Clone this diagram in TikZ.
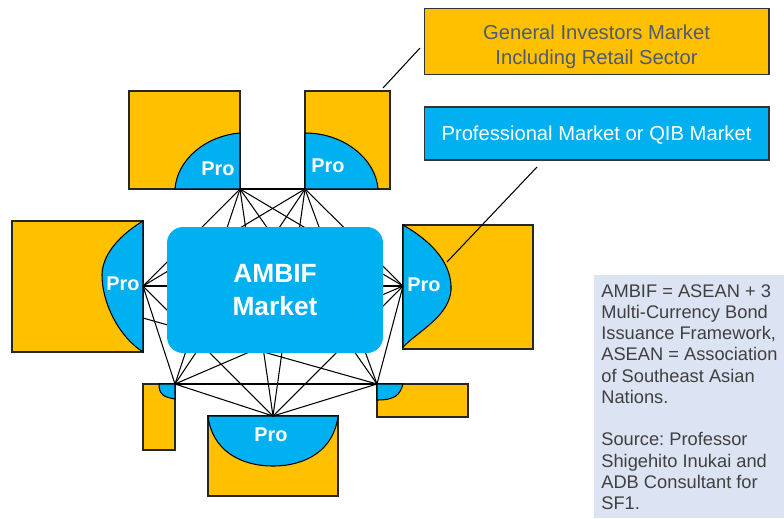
\documentclass[tikz,border=0pt]{standalone}
\usepackage{fontspec}
\setmainfont{Liberation Sans}

\definecolor{mktorange}{HTML}{FFC000}
\definecolor{mktblue}{HTML}{00B0F0}
\definecolor{notebg}{HTML}{DCE3F2}
\definecolor{slatetext}{HTML}{4F5A70}
\definecolor{notetext}{HTML}{404040}

\begin{document}
\frenchspacing
\begin{tikzpicture}[x=0.02cm, y=-0.02cm,
  genbox/.style={rectangle, draw=black!80, fill=mktorange, line width=0.6pt, minimum width=6.9cm, minimum height=1.14cm, align=center, font=\fontsize{11.5}{14.2}\selectfont, text=slatetext},
  probox/.style={rectangle, draw=black!80, fill=mktblue, line width=0.6pt, minimum width=6.9cm, minimum height=1.06cm, align=center, font=\fontsize{11.5}{14.2}\selectfont, text=white},
  hubnode/.style={rectangle, rounded corners=0.32cm, fill=mktblue, minimum width=4.32cm, minimum height=2.52cm, align=center, font=\fontsize{15}{18.7}\selectfont\bfseries, text=white},
  prolabel/.style={font=\fontsize{11.3}{13}\selectfont\bfseries, text=white, inner sep=0pt},
  marketsq/.style={draw=black!85, fill=mktorange, line width=0.6pt},
  proarea/.style={draw=black, fill=mktblue, line width=0.6pt},
  link/.style={draw=black, line width=0.6pt},
]
\useasboundingbox (0,0) rectangle (784,518);

% note panel
\fill[notebg] (594,275) rectangle (784,518);
\node[anchor=north west, inner sep=0pt, align=left, text=notetext,
  font=\fontsize{10.4}{12.1}\selectfont] (note) at (601,284)
  {AMBIF = ASEAN + 3\\Multi-Currency Bond\\Issuance Framework,\\ASEAN = Association\\of Southeast Asian\\Nations.\\[12.1pt]Source: Professor\\Shigehito Inukai and\\ADB Consultant for\\SF1.};

% market squares
\draw[marketsq] (129,91) rectangle (240,189);
\filldraw[proarea] (240,133) .. controls (205,136) and (177,160) .. (175,189) -- (240,189) -- cycle;
\node[prolabel] (protl) at (218,169) {Pro};

\draw[marketsq] (305,91) rectangle (390,189);
\filldraw[proarea] (305,133) .. controls (345,133) and (376,160) .. (378,189) -- (305,189) -- cycle;
\node[prolabel] (protr) at (328,166) {Pro};

\draw[marketsq] (12,221) rectangle (143,352);
\filldraw[proarea] (143,221) .. controls (115,238) and (102,258) .. (102,275)
  .. controls (102,302) and (118,336) .. (143,352) -- cycle;
\node[prolabel] (prol) at (123,284) {Pro};

\draw[marketsq] (403,225) rectangle (533,349);
\filldraw[proarea] (403,225) .. controls (438,245) and (452,268) .. (451,290)
  .. controls (449,316) and (420,330) .. (403,347) -- cycle;
\node[prolabel] (pror) at (424,285) {Pro};

\draw[marketsq] (143,384) rectangle (175,450);
\filldraw[proarea] (159,384) .. controls (159,395) and (164,397) .. (175,399) -- (175,384) -- cycle;

\draw[marketsq] (377,384) rectangle (468,417);
\filldraw[proarea] (403,384) .. controls (400,395) and (395,400) .. (377,400) -- (377,384) -- cycle;

\draw[marketsq] (208,416) rectangle (338,496);
\filldraw[proarea] (208,416) .. controls (212,450) and (240,466) .. (273,466)
  .. controls (306,466) and (334,450) .. (338,416) -- cycle;
\node[prolabel] (prob) at (271,435) {Pro};

% hub points
\coordinate (tl) at (240,189);
\coordinate (tr) at (305,189);
\coordinate (l) at (143,286);
\coordinate (lb) at (143,318);
\coordinate (r) at (403,286);
\coordinate (bl) at (175,384);
\coordinate (br) at (377,384);
\coordinate (b) at (273,416);

\draw[link] (tl) -- (tr);
\draw[link] (tl) -- (l);
\draw[link] (tl) -- (r);
\draw[link] (tl) -- (bl);
\draw[link] (tl) -- (br);
\draw[link] (tl) -- (b);
\draw[link] (tr) -- (l);
\draw[link] (tr) -- (r);
\draw[link] (tr) -- (bl);
\draw[link] (tr) -- (br);
\draw[link] (tr) -- (b);
\draw[link] (l) -- (r);
\draw[link] (l) -- (bl);
\draw[link] (l) -- (b);
\draw[link] (lb) -- (br);
\draw[link] (r) -- (bl);
\draw[link] (r) -- (br);
\draw[link] (r) -- (b);
\draw[link] (bl) -- (br);
\draw[link] (bl) -- (b);
\draw[link] (br) -- (b);

\node[hubnode] (ambif) at (275,290) {AMBIF\\Market};

% legend
\node[genbox] (general) at (596.5,41.5) {\rule{0pt}{14pt}General Investors Market\\Including Retail Sector};
\node[probox] (professional) at (596.5,133.5) {\rule{0pt}{10pt}Professional Market or QIB Market};

\coordinate (genfrom) at (420,48);
\coordinate (gento) at (383,88);
\coordinate (profrom) at (537,167);
\coordinate (proto) at (447,262);
\draw[link] (genfrom) -- (gento);
\draw[link] (profrom) -- (proto);

\end{tikzpicture}
\end{document}
